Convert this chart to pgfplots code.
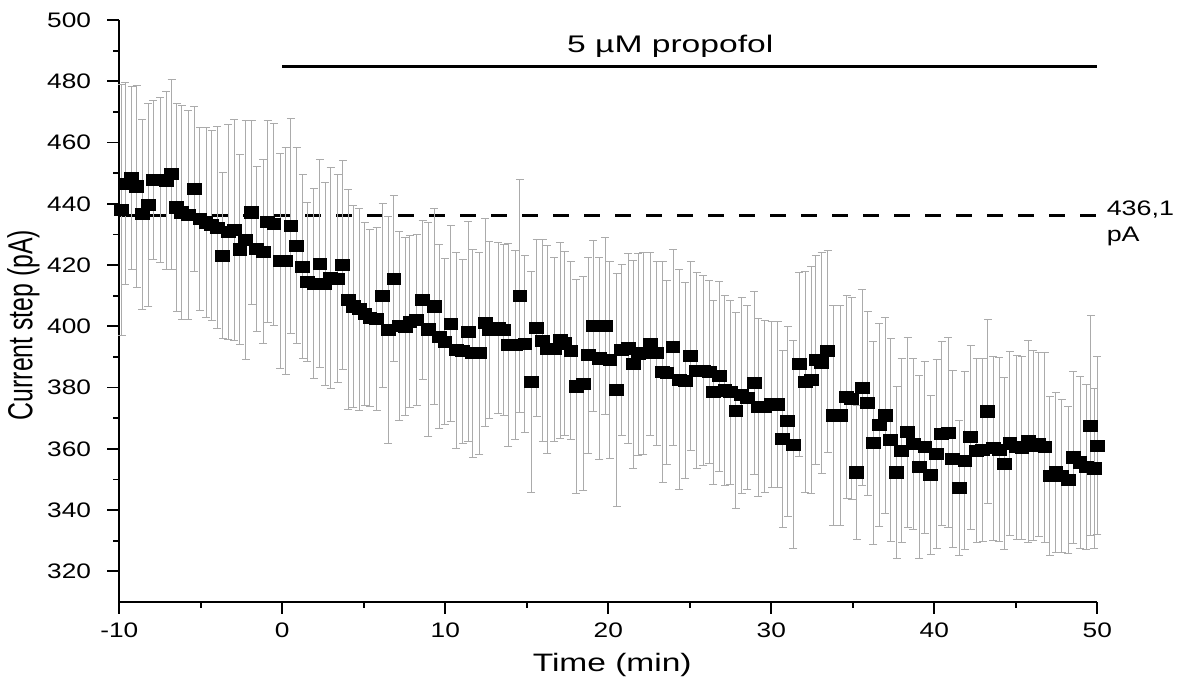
\documentclass[border=0pt]{standalone}
\usepackage{fontspec}
\setmainfont{Liberation Sans}
\usepackage{pgfplots}
\pgfplotsset{compat=1.18}
\usepackage{pgfplotstable}

\pgfplotstableread{
t y e
-9.85 438.0 41
-9.65 446.5 33
-9.24 448.4 30
-8.93 445.7 33
-8.59 436.6 31
-8.22 439.6 33
-7.91 447.8 26
-7.50 447.8 27
-7.13 447.5 29
-6.79 449.7 31
-6.48 438.8 34
-6.17 437.2 35
-5.77 436.3 34
-5.40 444.8 27
-5.05 435.0 30
-4.68 433.9 31
-4.33 433.0 31
-3.99 432.2 33
-3.66 423.1 27
-3.31 430.8 35
-2.96 431.4 36
-2.60 425.1 31
-2.25 428.2 39
-1.88 437.2 30
-1.57 425.3 27
-1.17 424.3 30
-0.90 434.1 33
-0.51 433.3 33
-0.14 421.3 35
0.21 421.3 37
0.53 432.8 35
0.88 426.3 32
1.25 419.4 30
1.53 414.4 26
1.94 413.9 31
2.31 420.5 34
2.62 413.8 33
2.97 415.8 36
3.40 415.6 34
3.71 420.0 34
4.05 408.7 36
4.36 406.5 33
4.72 405.6 33
5.07 404.0 30
5.38 402.7 29
5.79 402.4 30
6.16 410.0 30
6.50 398.8 37
6.85 415.6 27
7.18 400.1 31
7.53 399.9 29
7.83 401.5 28
8.25 402.1 28
8.61 408.7 26
8.96 399.0 35
9.31 406.5 32
9.63 396.6 30
9.98 395.0 27
10.35 400.8 32
10.66 392.2 32
11.07 391.9 30
11.41 398.3 36
11.68 391.2 34
12.09 391.2 33
12.44 401.2 34
12.70 398.8 29
13.25 399.4 28
13.60 398.8 28
13.87 393.9 33
14.28 393.9 31
14.58 409.8 38
14.89 394.2 29
15.26 381.8 36
15.61 399.4 29
15.98 395.3 33
16.26 392.5 34
16.67 392.5 30
17.04 395.5 32
17.34 394.4 30
17.71 392.0 29
18.02 380.4 35
18.47 381.3 35
18.77 390.6 32
19.08 400.1 28
19.45 389.5 33
19.80 400.1 29
20.10 389.0 32
20.52 379.3 38
20.82 392.2 28
21.23 392.8 31
21.53 387.6 34
21.84 390.9 33
22.15 391.2 33
22.56 394.2 30
22.97 391.2 30
23.34 385.1 36
23.60 384.8 30
23.97 393.2 32
24.36 382.6 36
24.71 382.2 32
25.06 390.3 31
25.42 385.5 32
25.83 385.5 31
26.20 385.1 30
26.44 378.5 30
26.81 383.7 31
27.16 379.1 31
27.47 378.5 30
27.83 372.5 32
28.18 377.5 32
28.53 376.7 30
28.94 381.5 30
29.20 373.6 29
29.61 373.8 28
30.02 374.5 27
30.39 374.5 27
30.70 363.2 29
31.01 369.0 31
31.35 361.4 34
31.72 387.6 30
32.07 381.8 36
32.44 382.4 37
32.74 389.0 34
33.09 388.1 36
33.46 391.9 33
33.79 370.9 36
34.22 370.9 36
34.63 376.9 33
34.93 376.4 33
35.24 352.3 22
35.58 380.0 32
35.91 374.9 30
36.26 361.9 33
36.63 367.8 33
36.98 370.9 32
37.33 362.9 33
37.69 352.3 28
38.00 359.4 30
38.37 365.4 31
38.71 361.6 28
39.08 354.1 30
39.43 360.5 28
39.78 351.4 26
40.15 358.3 31
40.45 364.9 30
40.86 365.2 31
41.13 356.7 29
41.52 347.3 22
41.88 356.1 29
42.23 363.8 30
42.60 359.4 30
42.97 359.6 30
43.28 372.2 30
43.62 360.2 30
43.99 359.7 30
44.29 355.2 28
44.64 361.8 30
45.06 360.5 30
45.38 360.3 30
45.75 362.4 33
46.07 361.0 31
46.42 361.5 30
46.79 360.5 31
47.09 351.2 26
47.46 352.3 26
47.82 351.2 25
48.22 349.8 24
48.53 357.2 28
48.94 355.6 28
49.31 354.0 27
49.60 367.6 36
49.80 353.6 26
50.00 361.0 29
}\datatable

\begin{document}
\begin{tikzpicture}
\begin{axis}[
  at={(0,0)}, anchor=south west,
  scale only axis, width=489pt, height=291pt,
  xmin=-10, xmax=50, ymin=310, ymax=500,
  axis x line*=bottom, axis y line*=left,
  axis line style={line width=1pt, black},
  xtick={-10,0,...,50}, ytick={320,340,...,500},
  minor x tick num=1, minor y tick num=1,
  tick align=outside,
  major tick length=6pt, minor tick length=3pt,
  tick style={line width=0.9pt, black},
  /pgf/number format/assume math mode=true,
  ticklabel style={font=\fontsize{10.5}{12}\selectfont, xscale=1.25},
  xticklabel style={yshift=-1pt},
  yticklabel style={xshift=-3pt},
  xlabel={Time (min)},
  xlabel style={font=\fontsize{12.6}{14}\selectfont, xscale=1.33,
    at={(axis description cs:0.504,0)}, anchor=center, yshift=-31.5pt},
  ylabel={Current step (pA)},
  ylabel style={font=\fontsize{12.4}{14}\selectfont,
    at={(axis description cs:-0.098,0.476)}, anchor=center, yscale=1.4},
  clip=false,
]
\addplot[black, line width=1.25pt, dash pattern=on 8pt off 7.5pt, forget plot]
  coordinates {(-10,436.1) (50,436.1)};
\addplot[black, line width=1.2pt, forget plot]
  coordinates {(0,484.8) (50,484.8)};
\addplot[only marks, mark=square*, mark size=2.8pt,
  mark options={black, xscale=1.23},
  error bars/.cd, y dir=both, y explicit,
  error bar style={line width=0.5pt, black!33},
  error mark options={rotate=90, mark size=2pt, line width=0.5pt, black!33}]
  table[x=t, y=y, y error=e] {\datatable};
\node[font=\fontsize{12}{14}\selectfont, xscale=1.4] at (axis cs:23.8,491.4) {5 µM propofol};
\node[font=\fontsize{10.5}{13}\selectfont, xscale=1.28, anchor=west, align=left, inner sep=0pt]
  at (axis cs:50,433.5) [xshift=3.5pt] {436,1\\pA};
\end{axis}
\pgfresetboundingbox
\path[use as bounding box] (-59.65pt,-43pt) rectangle (530.35pt,301pt);
\end{tikzpicture}
\end{document}
